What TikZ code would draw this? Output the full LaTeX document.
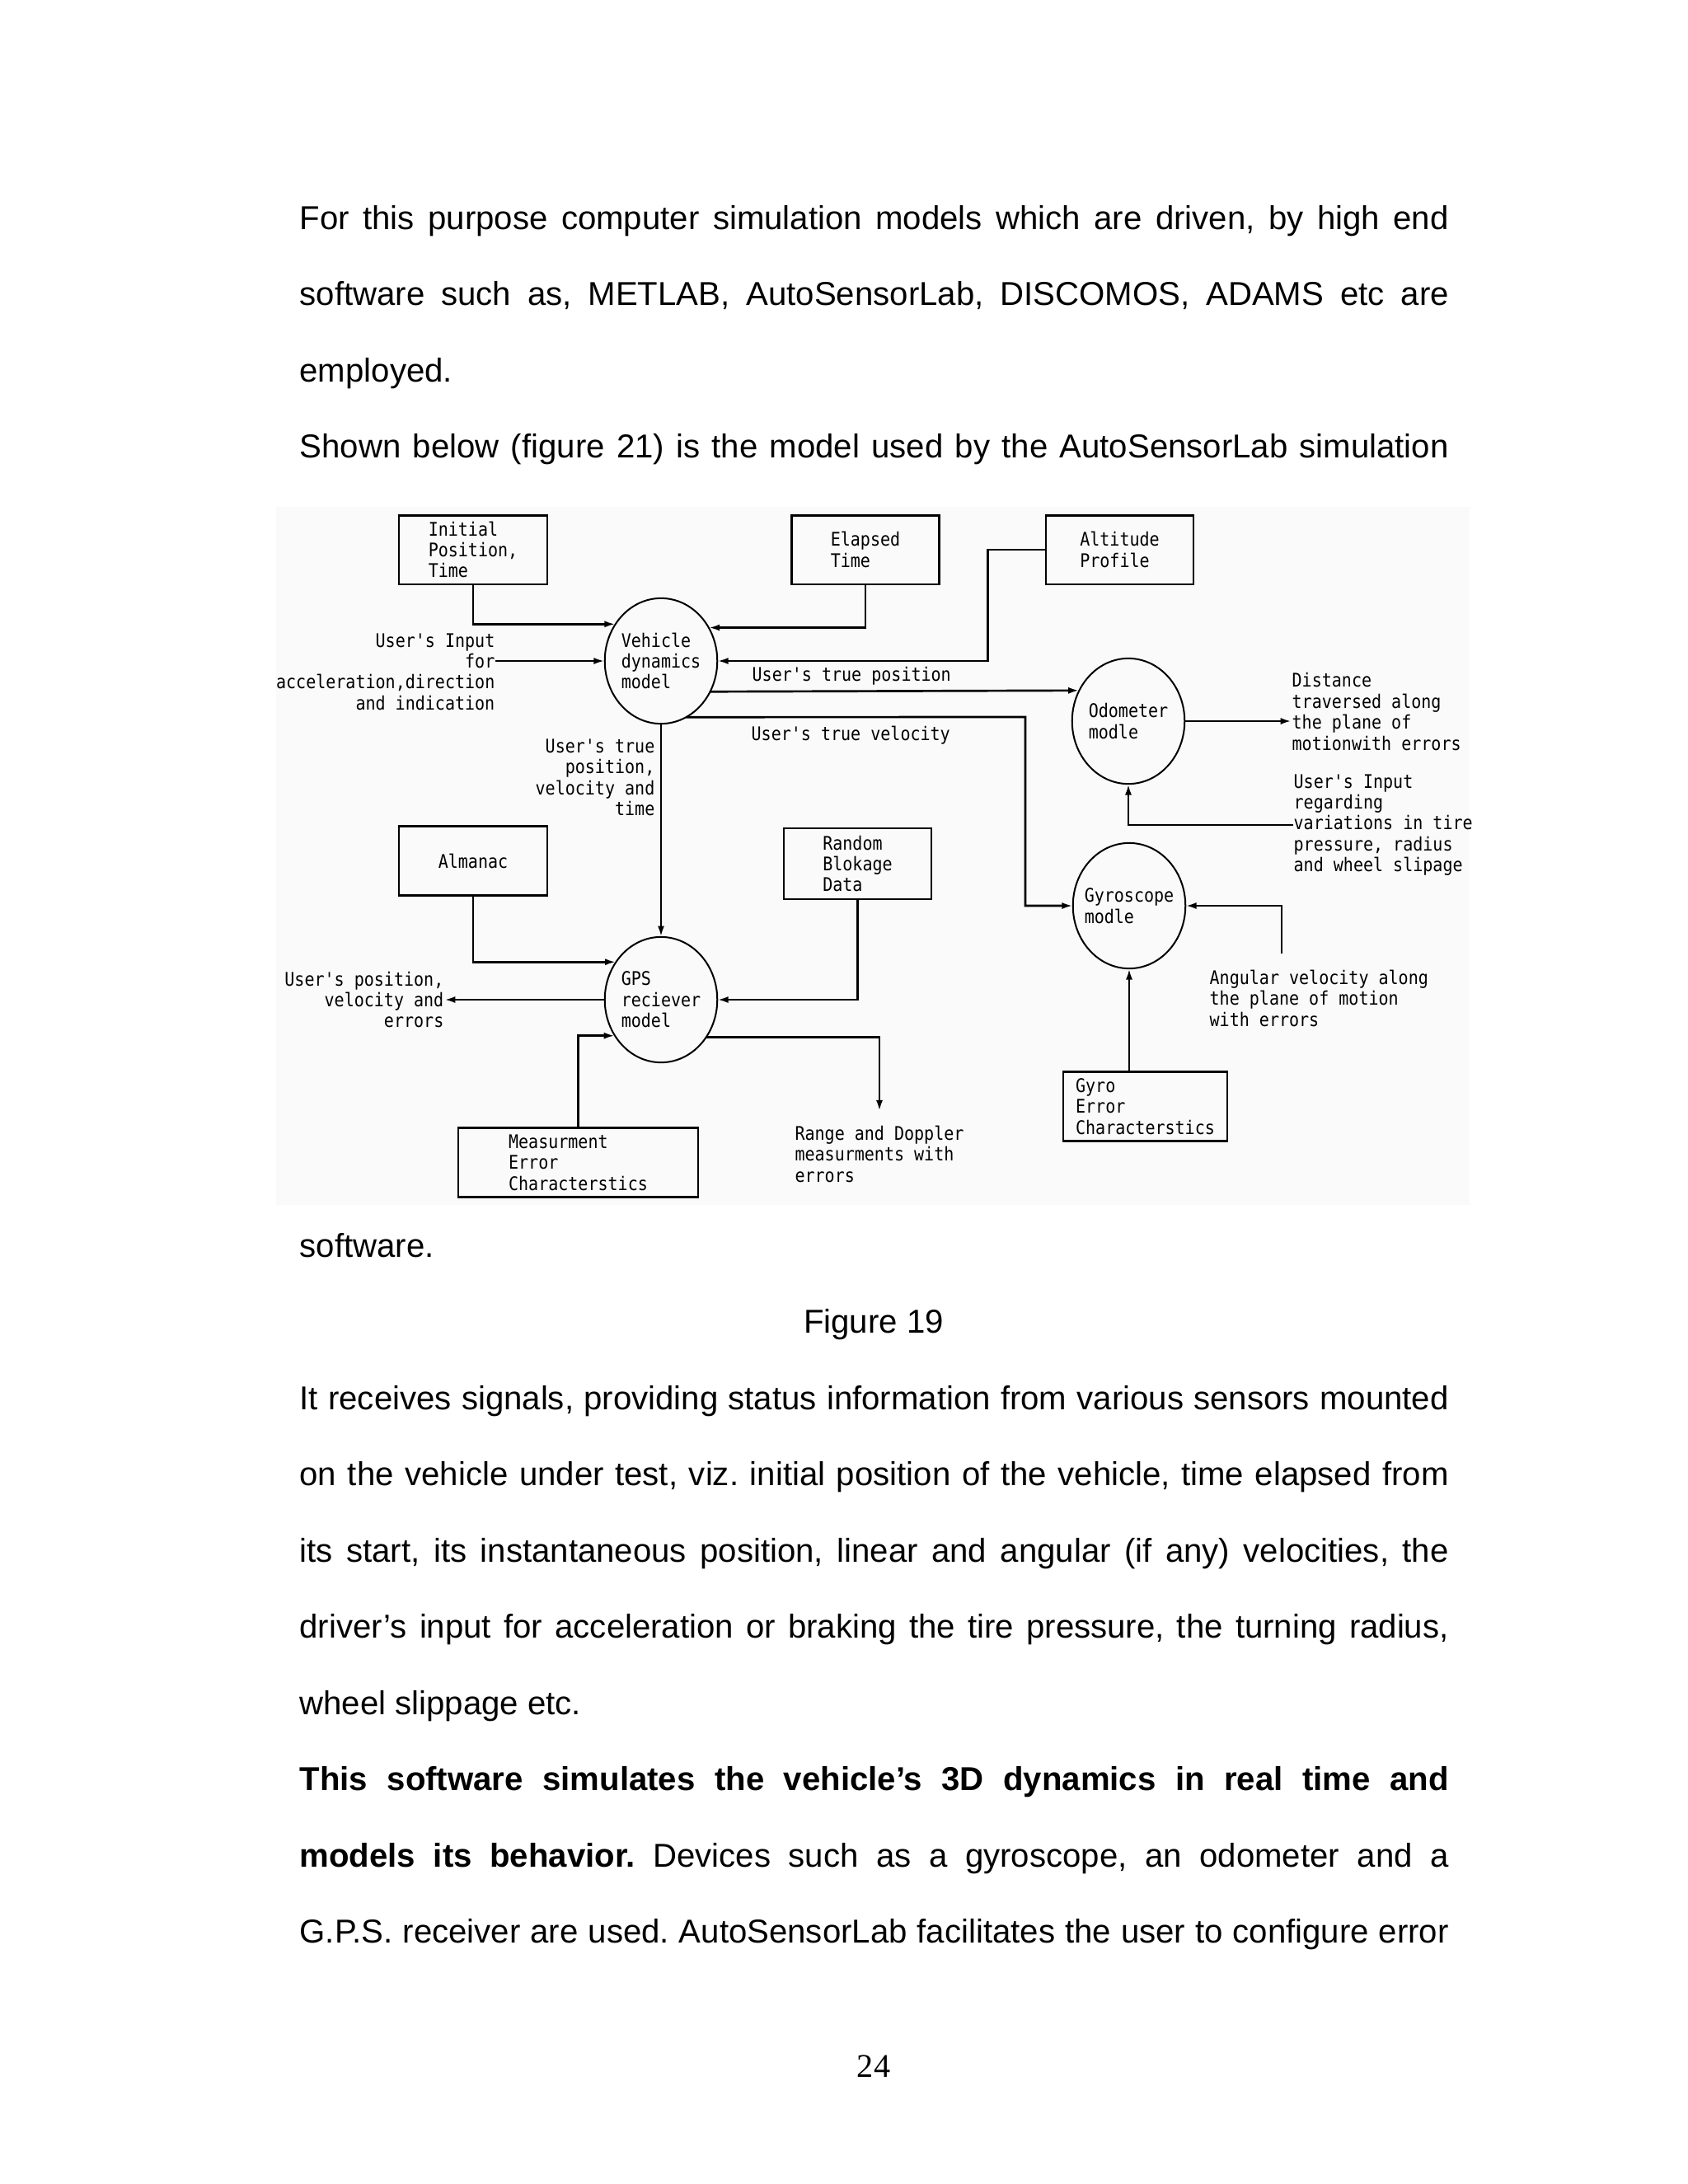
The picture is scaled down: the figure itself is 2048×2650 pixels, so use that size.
\documentclass[tikz,border=0pt]{standalone}
\usepackage{fontspec}
\setmainfont{Liberation Sans}
\newfontfamily\diagfont[FakeStretch=0.88]{DejaVu Sans Mono}
\newfontfamily\numfont{Liberation Serif}
\usetikzlibrary{arrows.meta,shapes.geometric,calc}
\frenchspacing

\begin{document}
\begin{tikzpicture}[x=0.29883pt,y=-0.29883pt,
 body/.style={anchor=base west,inner sep=0pt,font=\fontsize{12}{14}\selectfont},
 lbl/.style={inner sep=0pt,font=\diagfont\fontsize{6.8}{7.6}\selectfont},
 procbox/.style={draw,line width=0.8pt,minimum width=53.5pt,minimum height=25pt,inner sep=1pt,align=left,font=\diagfont\fontsize{6.8}{7.6}\selectfont},
 proc/.style={ellipse,draw,line width=0.6pt,minimum width=40.8pt,minimum height=45.5pt,inner sep=0pt,outer sep=0pt},
 arr/.style={line width=0.8pt,-{Latex[length=4pt,width=2.4pt]}}]
\useasboundingbox (0,0) rectangle (2048,2650);

% page text
\node[body] (p1) at (363,278) {\makebox[416.6pt][s]{For this purpose computer simulation models which are driven, by high end}};
\node[body] (p2) at (363,370.5) {\makebox[416.6pt][s]{software such as, METLAB, AutoSensorLab, DISCOMOS, ADAMS etc are}};
\node[body] (p3) at (363,463) {employed.};
\node[body] (p4) at (363,555.5) {\makebox[416.6pt][s]{Shown below (figure 21) is the model used by the AutoSensorLab simulation}};
\node[body] (p5) at (363,1525) {software.};
\node[body,anchor=base] (cap) at (1060,1617.5) {Figure 19};
\node[body] (p6) at (363,1710) {\makebox[416.6pt][s]{It receives signals, providing status information from various sensors mounted}};
\node[body] (p7) at (363,1802.5) {\makebox[416.6pt][s]{on the vehicle under test, viz. initial position of the vehicle, time elapsed from}};
\node[body] (p8) at (363,1895) {\makebox[416.6pt][s]{its start, its instantaneous position, linear and angular (if any) velocities, the}};
\node[body] (p9) at (363,1987.5) {\makebox[416.6pt][s]{driver’s input for acceleration or braking the tire pressure, the turning radius,}};
\node[body] (p10) at (363,2080) {wheel slippage etc.};
\node[body] (p11) at (363,2172.5) {\makebox[416.6pt][s]{\textbf{This software simulates the vehicle’s 3D dynamics in real time and}}};
\node[body] (p12) at (363,2265) {\makebox[416.6pt][s]{\textbf{models its behavior.} Devices such as a gyroscope, an odometer and a}};
\node[body] (p13) at (363,2357.5) {\makebox[416.6pt][s]{G.P.S. receiver are used. AutoSensorLab facilitates the user to configure error}};
\node[anchor=base,inner sep=0pt,font=\numfont\fontsize{12}{14}\selectfont] (pnum) at (1060,2520) {24};

% diagram
\fill[black!2] (335,615) rectangle (1783,1462);

\node[procbox,minimum width=53.8pt] (init) at (574,667) {Initial\\Position,\\Time};
\node[procbox] (elapsed) at (1050,667) {Elapsed\\Time};
\node[procbox] (alt) at (1358.5,667) {Altitude\\Profile};
\node[procbox,minimum width=53.8pt] (alm) at (574,1044.5) {Almanac};
\node[procbox,minimum height=25.7pt] (rand) at (1040.5,1048) {Random\\Blokage\\Data};
\node[procbox,minimum width=87pt] (meas) at (701.5,1410.5) {Measurment\\Error\\Characterstics};
\node[procbox,minimum width=59.5pt] (gerr) at (1389.5,1342.5) {Gyro\\Error\\Characterstics};

\node[proc] (veh) at (802,802) {};
\node[lbl,align=left] (veh-t) at (veh) {Vehicle\\dynamics\\model};
\node[proc] (odo) at (1369,875) {};
\node[lbl,align=left] (odo-t) at (odo) {Odometer\\modle};
\node[proc] (gyro) at (1370,1099) {};
\node[lbl,align=left] (gyro-t) at (gyro) {Gyroscope\\modle};
\node[proc] (gps) at (802,1213) {};
\node[lbl,align=left] (gps-t) at (gps) {GPS\\reciever\\model};

\node[lbl,align=right,anchor=east] (usrin) at (601,815) {User's Input\\for\\acceleration,direction\\and indication};
\node[lbl,anchor=west] (tpos) at (912,820) {User's true position};
\node[lbl,anchor=west] (tvel) at (911,892) {User's true velocity};
\node[lbl,align=right,anchor=east] (tall) at (795,943.5) {User's true\\position,\\velocity and\\time};
\node[lbl,align=left,anchor=west] (dist) at (1567,863.5) {Distance\\traversed along\\the plane of\\motionwith errors};
\node[lbl,align=left,anchor=west] (tire) at (1569,1001) {User's Input\\regarding\\variations in tire\\pressure, radius\\and wheel slipage};
\node[lbl,align=left,anchor=west] (angv) at (1467,1211) {Angular velocity along\\the plane of motion\\with errors};
\node[lbl,align=right,anchor=east] (gpsout) at (539,1213) {User's position,\\velocity and\\errors};
\node[lbl,align=left,inner sep=5pt] (range) at (1067,1400) {Range and Doppler\\measurments with\\errors};

\draw[arr] (init.south) |- (veh.141.5);
\draw[arr] (elapsed.south) |- (veh.35.6);
\draw[arr] (veh.west -| usrin.east) -- (veh.west);
\draw[arr] (alt.west) -- ++(-69,0) |- (veh.east);
\draw[arr] (veh.328) -- (odo.148);
\coordinate (vbend) at (1244,870);
\draw[arr] (veh.294) -- (vbend) |- (gyro.west);
\draw[arr] (veh.south) -- (gps.north);
\draw[arr] (alm.south) |- (gps.140.6);
\draw[arr] (gps.west) -- (gpsout.east);
\draw[arr] (rand.south) |- (gps.east);
\draw[arr] (gps.320.6) -| (range.north);
\draw[arr] (meas.north) |- (gps.218.5);
\draw[arr] (odo.east) -- (odo.east -| dist.west);
\draw[arr] (tire.west) -| (odo.south);
\coordinate (aend) at (1555,1157);
\draw[arr] (aend) |- (gyro.east);
\draw[arr] (gerr.north -| gyro.south) -- (gyro.south);
\end{tikzpicture}
\end{document}
